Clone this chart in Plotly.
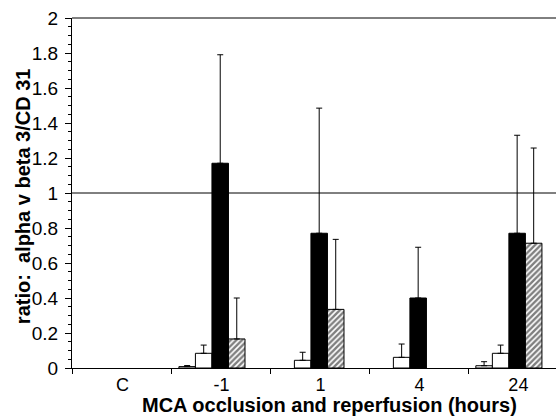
import plotly.graph_objects as go

categories = ["C", "-1", "1", "4", "24"]

# four series per time point (bar heights) and upward error magnitudes
s1_vals = [None, 0.008, None, None, 0.013]
s1_err = [None, 0.006, None, None, 0.023]
s2_vals = [None, 0.084, 0.044, 0.061, 0.084]
s2_err = [None, 0.047, 0.046, 0.076, 0.047]
s3_vals = [None, 1.17, 0.77, 0.40, 0.77]
s3_err = [None, 0.62, 0.715, 0.29, 0.56]
s4_vals = [None, 0.166, 0.335, None, 0.713]
s4_err = [None, 0.234, 0.40, None, 0.544]

y_ticks = [0, 0.2, 0.4, 0.6, 0.8, 1, 1.2, 1.4, 1.6, 1.8, 2]
y_ticktext = ["0", "0.2", "0.4", "0.6", "0.8", "1", "1.2", "1.4", "1.6", "1.8", "2"]

x_title = "MCA occlusion and reperfusion (hours)"
y_title = "ratio:  alpha v beta 3/CD 31"

series = [
    (s1_vals, s1_err, dict(color="white"), -0.43),
    (s2_vals, s2_err, dict(color="white"), -0.263),
    (s3_vals, s3_err, dict(color="black"), -0.096),
    (s4_vals, s4_err, dict(color="white",
                           pattern=dict(shape="/", fgcolor="black", bgcolor="white",
                                        size=4, solidity=0.6, fillmode="overlay")), 0.071),
]

fig = go.Figure()
for vals, err, mk, off in series:
    fig.add_trace(go.Bar(
        x=categories, y=vals, offset=off, width=0.167,
        marker=dict(**mk, line=dict(color="black", width=1)),
        error_y=dict(type="data", array=err, symmetric=False,
                     arrayminus=[0] * len(err), color="black", thickness=1, width=3),
        showlegend=False,
    ))

# reference line at ratio 1 and frame line at the top
fig.add_shape(type="line", xref="paper", yref="y", x0=0, x1=1, y0=1, y1=1,
              line=dict(color="black", width=1))
fig.add_shape(type="line", xref="paper", yref="paper", x0=0, x1=1, y0=1, y1=1,
              line=dict(color="black", width=1))

fig.add_annotation(text="<b>" + x_title + "</b>", xref="paper", yref="paper",
                   x=0.533, y=0, xanchor="center", yanchor="middle", yshift=-37,
                   showarrow=False, font=dict(size=20))
fig.add_annotation(text="<b>" + y_title + "</b>", xref="paper", yref="paper",
                   x=0, y=0.491, xanchor="center", yanchor="middle", xshift=-49,
                   textangle=-90, showarrow=False, font=dict(size=20))

fig.update_layout(
    width=556, height=420,
    margin=dict(l=72, r=0, t=18, b=52),
    paper_bgcolor="white", plot_bgcolor="white",
    barmode="overlay",
    font=dict(family="Liberation Sans, Arial, sans-serif", color="black"),
    xaxis=dict(
        type="category", range=[-0.51, 4.38], automargin=False,
        showline=True, linecolor="black", linewidth=1,
        ticks="outside", tickson="boundaries", ticklen=5, tickcolor="black",
        tickfont=dict(size=18), showgrid=False, zeroline=False,
    ),
    yaxis=dict(
        range=[0, 2], tickvals=y_ticks, ticktext=y_ticktext, automargin=False,
        showline=True, linecolor="black", linewidth=1,
        ticks="outside", ticklen=6, tickcolor="black", ticklabelstandoff=3,
        minor=dict(ticks="outside", ticklen=3, dtick=0.05, tickcolor="black", showgrid=False),
        tickfont=dict(size=19), showgrid=False, zeroline=False,
    ),
)

# remove the default 8px page margin so the figure sits at the window's corner
fig.write_html("out.html", config={"displayModeBar": False},
               post_script="document.body.style.margin='0';")
